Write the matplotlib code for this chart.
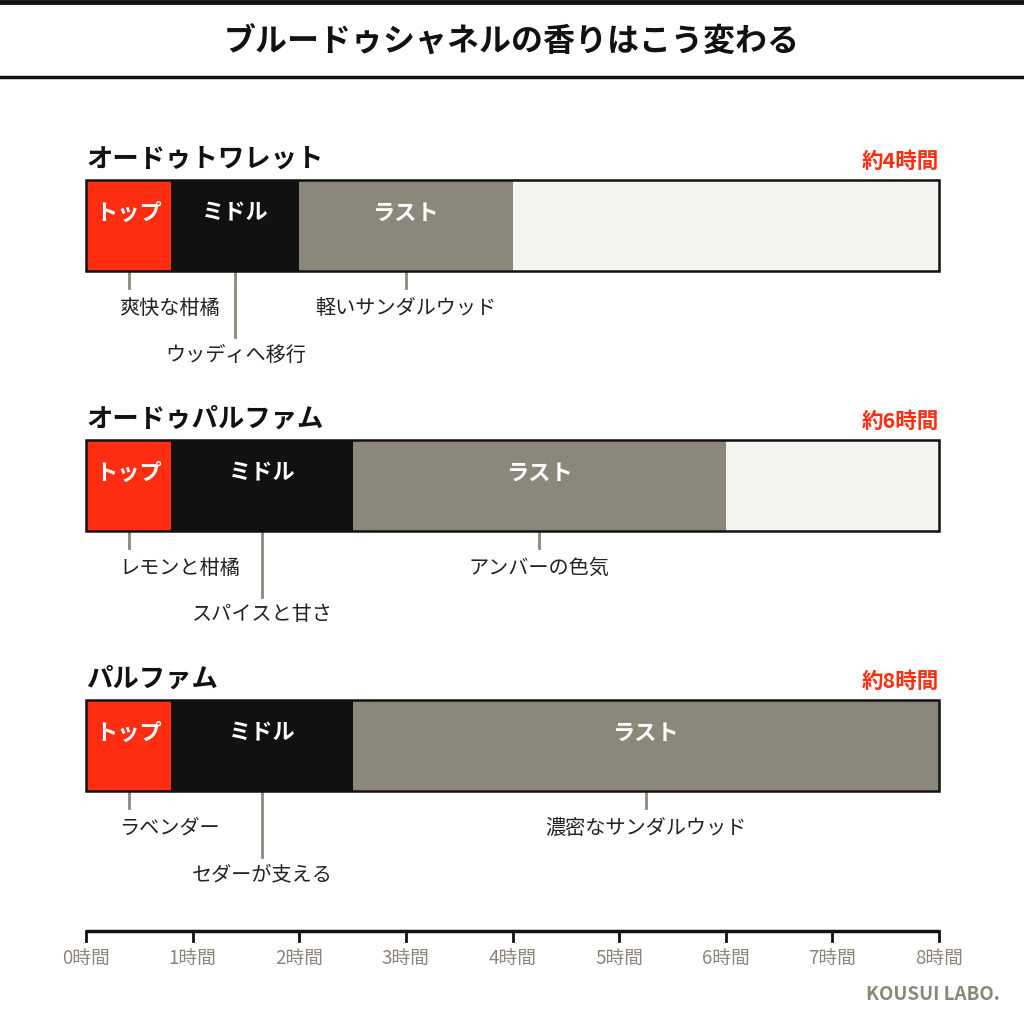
import matplotlib.pyplot as plt

plt.rcParams['font.family'] = ['Noto Sans CJK JP', 'DejaVu Sans']

## data
chartTitle = 'ブルードゥシャネルの香りはこう変わる'
products = ['オードゥトワレット', 'オードゥパルファム', 'パルファム']
durations = ['約4時間', '約6時間', '約8時間']
phaseNames = ['トップ', 'ミドル', 'ラスト']
# phase boundaries in hours: top end, middle end, last end
topEnd = [0.8, 0.8, 0.8]
middleEnd = [2.0, 2.5, 2.5]
lastEnd = [4.0, 6.0, 8.0]
topNotes = ['爽快な柑橘', 'レモンと柑橘', 'ラベンダー']
middleNotes = ['ウッディへ移行', 'スパイスと甘さ', 'セダーが支える']
lastNotes = ['軽いサンダルウッド', 'アンバーの色気', '濃密なサンダルウッド']
maxHours = 8
hourTicks = list(range(0, 9))
hourLabels = [f'{h}時間' for h in hourTicks]

## style
cRed = '#ff2d12'
cBlack = '#111111'
cGray = '#8b877b'
cLight = '#f3f3ef'
cLine = '#8b877b'

W = 1024
fig = plt.figure(figsize=(10.24, 10.24), dpi=100)
fig.patch.set_facecolor('white')

# axes: x in hours, y in pixels from top
x0, x1 = 86, 939
ax = fig.add_axes([x0 / W, 0, (x1 - x0) / W, 1])
ax.set_xlim(0, maxHours)
ax.set_ylim(W, 0)
ax.axis('off')

# header
fig.add_artist(plt.Line2D([0, 1], [1 - 2 / W, 1 - 2 / W], color='#111111', lw=3.5))
fig.add_artist(plt.Line2D([0, 1], [1 - 77 / W, 1 - 77 / W], color='#111111', lw=2.5))
fig.text(0.5, 1 - 43 / W, chartTitle, ha='center', va='center', fontsize=23,
         fontweight='bold', color='#111111')

barTops = [180, 440, 700]
barH = 91
for i in range(3):
    yt = barTops[i]
    yc = yt + barH / 2
    ax.text(0, yt - 21, products[i], ha='left', va='center', fontsize=19,
            fontweight='bold', color='#111111')
    ax.text(maxHours, yt - 19, durations[i], ha='right', va='center', fontsize=15.5,
            fontweight='bold', color=cRed)

    segs = [(0, topEnd[i], cRed), (topEnd[i], middleEnd[i], cBlack),
            (middleEnd[i], lastEnd[i], cGray)]
    if lastEnd[i] < maxHours:
        segs.append((lastEnd[i], maxHours, cLight))
    for a, b, c in segs:
        ax.barh(yc, b - a, left=a, height=barH, color=c, edgecolor='none', zorder=2,
                clip_on=False)
    ax.barh(yc, maxHours, left=0, height=barH, color='none', edgecolor='#111111',
            lw=1.8, zorder=3, clip_on=False)

    for k, (a, b) in enumerate([(0, topEnd[i]), (topEnd[i], middleEnd[i]),
                                (middleEnd[i], lastEnd[i])]):
        ax.text((a + b) / 2, yt + 33, phaseNames[k], ha='center', va='center',
                fontsize=16, fontweight='bold', color='white', zorder=4)

    # annotations
    yb = yt + barH
    xs = [topEnd[i] / 2, (topEnd[i] + middleEnd[i]) / 2, (middleEnd[i] + lastEnd[i]) / 2]
    notes = [topNotes[i], middleNotes[i], lastNotes[i]]
    lineEnds = [yb + 17, yb + 66, yb + 17]
    textY = [yb + 37, yb + 84, yb + 37]
    for k, (xx, note, le, ty) in enumerate(zip(xs, notes, lineEnds, textY)):
        ax.plot([xx, xx], [yb, le], color=cLine, lw=2, zorder=1)
        if k == 0:
            # top note is left-aligned, slightly left of its leader line
            ax.annotate(note, xy=(xx, ty), xytext=(-6.5, 0), textcoords='offset points',
                        ha='left', va='center', fontsize=14.5, color='#222222')
        else:
            ax.text(xx, ty, note, ha='center', va='center', fontsize=14.5, color='#222222')

# time axis
axisY = 931
ax.plot([0, maxHours], [axisY, axisY], color='#111111', lw=2.5, solid_capstyle='butt',
        clip_on=False)
for h, lab in zip(hourTicks, hourLabels):
    ax.plot([h, h], [axisY, axisY + 10], color='#111111', lw=2, clip_on=False)
    ax.text(h, axisY + 27, lab, ha='center', va='center', fontsize=13.5, color=cGray)

fig.text(1000 / W, 1 - 995 / W, 'KOUSUI LABO.', ha='right', va='center', fontsize=13.5,
         fontweight='bold', color=cGray)

fig.savefig('out.png', dpi=100, facecolor='white')
